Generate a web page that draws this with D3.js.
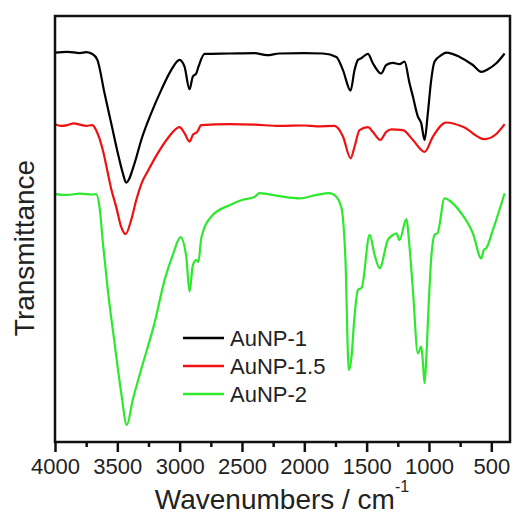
<!DOCTYPE html>
<html>
<head>
<meta charset="utf-8">
<script src="https://cdn.jsdelivr.net/npm/d3@7"></script>
<style>
  body { margin: 0; background: #fff; }
  text { font-family: "Liberation Sans", Arial, sans-serif; fill: #222; }
</style>
</head>
<body>
<script>
// FTIR spectra of the three AuNP samples
(function() {

  // Series names and colours
  var seriesNames = ["AuNP-1", "AuNP-1.5", "AuNP-2"];
  var seriesColors = ["#000000", "#ee1111", "#2ee82e"];

  // x tick labels (wavenumber, cm-1)
  var majorTicks = [4000, 3500, 3000, 2500, 2000, 1500, 1000, 500];
  var minorTicks = [3750, 3250, 2750, 2250, 1750, 1250, 750];

  // [wavenumber, transmittance (a.u., offset)]
  var auNP1 = [
    [4000, 91.4], [3900, 91.6], [3800, 91.3], [3750, 91.5], [3700, 91.1], [3660, 89.7],
    [3603, 81.9], [3549, 74.8], [3496, 67.8], [3456, 63.1], [3429, 60.9], [3362, 65.4],
    [3308, 70.9], [3228, 77.2], [3148, 82.6], [3068, 87.3], [3001, 89.7], [2961, 88.1],
    [2921, 82.8], [2894, 85.8], [2867, 86.5], [2849, 88.1], [2800, 91.1], [2600, 91.2],
    [2400, 91.3], [2300, 90.8], [2200, 91.2], [2000, 91.3], [1850, 91.2], [1743, 90.4],
    [1690, 87.3], [1629, 82.5], [1597, 87.3], [1570, 89.7], [1543, 90.1], [1490, 91.1],
    [1450, 88.9], [1383, 86.5], [1343, 88.5], [1290, 89.0], [1236, 88.7], [1196, 89.3],
    [1156, 84.2], [1129, 81.1], [1089, 76.4], [1062, 74.8], [1035, 70.9], [1009, 77.2],
    [982, 85.0], [955, 89.3], [901, 90.8], [861, 91.4], [754, 90.4], [648, 88.5],
    [580, 86.9], [527, 87.5], [460, 88.9], [393, 91.2]
  ];
  var auNP15 = [
    [4000, 74.6], [3950, 74.2], [3900, 74.4], [3850, 74.8], [3800, 74.5], [3750, 74.2],
    [3700, 74.4], [3670, 73.2], [3616, 68.5], [3576, 63.1], [3549, 59.4], [3509, 55.2],
    [3469, 50.5], [3434, 48.8], [3389, 52.1], [3348, 56.8], [3303, 60.9], [3255, 63.6],
    [3175, 67.8], [3095, 71.3], [3001, 73.9], [2961, 72.5], [2921, 70.5], [2894, 72.1],
    [2859, 72.8], [2827, 74.4], [2600, 74.6], [2400, 74.5], [2200, 74.2], [2000, 74.3],
    [1900, 74.1], [1757, 74.2], [1690, 71.7], [1629, 66.6], [1597, 69.3], [1557, 73.2],
    [1490, 73.9], [1450, 72.8], [1391, 70.9], [1343, 72.8], [1302, 73.4], [1209, 73.2],
    [1129, 70.9], [1035, 68.1], [968, 71.7], [861, 75.0], [728, 74.0], [554, 71.1],
    [460, 72.3], [393, 74.6]
  ];
  var auNP2 = [
    [4000, 58.2], [3900, 58.0], [3800, 58.3], [3700, 58.1], [3670, 58.2], [3643, 55.2],
    [3616, 46.8], [3576, 35.6], [3523, 23.4], [3469, 11.6], [3424, 4.0], [3376, 9.9],
    [3308, 17.1], [3202, 27.9], [3121, 38.0], [3055, 43.9], [2993, 48.1], [2947, 43.5],
    [2921, 35.3], [2894, 41.5], [2867, 42.7], [2849, 42.3], [2827, 47.8], [2747, 52.9],
    [2600, 55.6], [2500, 56.8], [2400, 57.5], [2360, 58.4], [2200, 57.7], [2037, 57.2],
    [1900, 58.0], [1800, 58.4], [1760, 58.0], [1704, 55.2], [1670, 42.7], [1643, 16.9],
    [1620, 20.4], [1600, 28.6], [1570, 35.7], [1540, 36.2], [1476, 48.6], [1436, 43.9],
    [1396, 40.8], [1330, 47.4], [1290, 48.6], [1262, 49.0], [1236, 47.4], [1182, 52.3],
    [1156, 45.8], [1129, 35.7], [1089, 20.8], [1062, 22.4], [1050, 19.2], [1035, 13.8],
    [1020, 20.4], [1008, 28.6], [981, 43.5], [955, 48.6], [930, 49.1], [875, 57.2],
    [808, 56.0], [741, 53.7], [648, 49.0], [580, 43.1], [560, 45.1], [540, 45.5],
    [487, 49.8], [393, 58.4]
  ];
  var allSeries = [auNP1, auNP15, auNP2];

  var width = 514,
      height = 517;
  var left = 55, right = 510, top = 16, bottom = 442;

  var svg = d3.select("body")
      .append("svg")
      .attr("width", width)
      .attr("height", height);

  var xScale = d3.scaleLinear()
      .domain([4000, 350])
      .range([left, right]);
  var yScale = d3.scaleLinear()
      .domain([0, 100])
      .range([bottom, top]);

  // Spectra
  var line = d3.line()
      .x(function(d) { return xScale(d[0]); })
      .y(function(d) { return yScale(d[1]); })
      .curve(d3.curveMonotoneX);

  svg.selectAll(".spectrum")
      .data(allSeries)
      .enter()
      .append("path")
      .attr("class", "spectrum")
      .attr("d", line)
      .attr("fill", "none")
      .attr("stroke", function(d, i) { return seriesColors[i]; })
      .attr("stroke-width", 2.2)
      .attr("stroke-linejoin", "round");

  // Frame
  svg.append("rect")
      .attr("x", left)
      .attr("y", top)
      .attr("width", right - left)
      .attr("height", bottom - top)
      .attr("fill", "none")
      .attr("stroke", "#111")
      .attr("stroke-width", 2.5);

  // Bottom axis: major ticks with labels, minor ticks without
  var xAxis = d3.axisBottom(xScale)
      .tickValues(majorTicks)
      .tickSize(10)
      .tickSizeOuter(0)
      .tickPadding(6)
      .tickFormat(d3.format("d"));
  var gx = svg.append("g")
      .attr("transform", "translate(0," + bottom + ")")
      .call(xAxis);
  gx.select(".domain").remove();
  gx.selectAll("line").attr("stroke", "#111").attr("stroke-width", 2.5);
  gx.selectAll("text")
      .attr("font-size", 22)
      .attr("font-family", "'Liberation Sans', Arial, sans-serif")
      .attr("fill", "#222");

  var xMinor = d3.axisBottom(xScale)
      .tickValues(minorTicks)
      .tickSize(5)
      .tickSizeOuter(0)
      .tickFormat("");
  var gm = svg.append("g")
      .attr("transform", "translate(0," + bottom + ")")
      .call(xMinor);
  gm.select(".domain").remove();
  gm.selectAll("line").attr("stroke", "#111").attr("stroke-width", 2.5);

  // Axis titles
  var xTitle = svg.append("text")
      .attr("x", 282)
      .attr("y", 509)
      .attr("text-anchor", "middle")
      .attr("font-size", 28);
  xTitle.append("tspan").text("Wavenumbers / cm");
  xTitle.append("tspan")
      .attr("dy", -17)
      .attr("font-size", 16)
      .text("-1");

  svg.append("text")
      .attr("transform", "translate(34,248) rotate(-90)")
      .attr("text-anchor", "middle")
      .attr("font-size", 28)
      .text("Transmittance");

  // Legend
  var legendY = [338, 366, 394];
  var legend = svg.selectAll(".legend")
      .data(seriesNames)
      .enter()
      .append("g")
      .attr("class", "legend")
      .attr("transform", function(d, i) { return "translate(183," + legendY[i] + ")"; });
  legend.append("line")
      .attr("x1", 0)
      .attr("x2", 41)
      .attr("stroke", function(d, i) { return seriesColors[i]; })
      .attr("stroke-width", 2.5);
  legend.append("text")
      .attr("x", 47)
      .attr("y", 8)
      .attr("font-size", 22)
      .text(function(d) { return d; });

})();
</script>
</body>
</html>
